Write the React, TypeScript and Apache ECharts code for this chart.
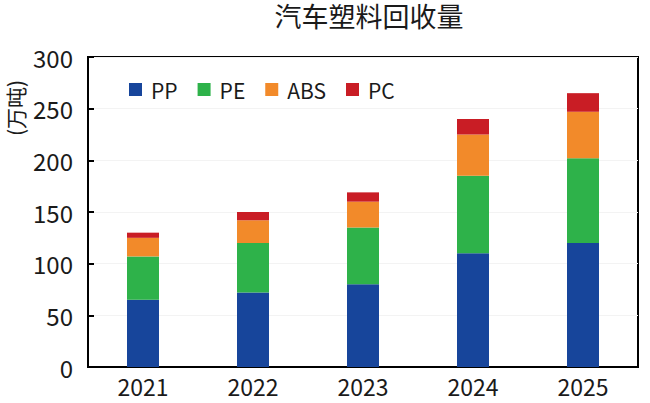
import React, { useEffect, useRef } from "react";
import * as echarts from "echarts";

const categories = ["2021", "2022", "2023", "2024", "2025"];
const seriesNames = ["PP", "PE", "ABS", "PC"];
const ppValues = [65, 72, 80, 110, 120];
const peValues = [42, 48, 55, 75, 82];
const absValues = [18, 22, 25, 40, 45];
const pcValues = [5, 8, 9, 15, 18];
const colors = ["#17459b", "#2eb24a", "#f28a2a", "#c91d25"];

const FONT = "'Noto Sans CJK SC', 'Noto Sans', sans-serif";

export default function App() {
  const ref = useRef<HTMLDivElement>(null);
  useEffect(() => {
    if (!ref.current) return;
    const chart = echarts.init(ref.current, undefined, { renderer: "svg" });
    const dataSets = [ppValues, peValues, absValues, pcValues];
    chart.setOption({
      animation: false,
      textStyle: { fontFamily: FONT },
      title: {
        text: "汽车塑料回收量",
        left: 369,
        top: 0,
        padding: 0,
        textAlign: "center",
        textStyle: { fontFamily: FONT, fontSize: 27, lineHeight: 30, fontWeight: "normal", color: "#1a1a1a" },
      },
      graphic: [
        {
          type: "text",
          x: 15,
          y: 108,
          rotation: Math.PI / 2,
          style: {
            text: "(万吨)",
            font: `21px ${FONT}`,
            fill: "#1a1a1a",
            textAlign: "center",
            textVerticalAlign: "middle",
          },
        },
      ],
      legend: {
        data: seriesNames,
        left: 124,
        top: 74,
        icon: "rect",
        itemWidth: 13,
        itemHeight: 13,
        itemGap: 20,
        textStyle: { fontFamily: FONT, fontSize: 21, color: "#1a1a1a", padding: [0, 0, 0, 4] },
      },
      grid: {
        left: 88,
        right: 12,
        top: 57,
        bottom: 36,
        show: true,
        borderColor: "#000",
        borderWidth: 2,
        containLabel: false,
      },
      xAxis: {
        type: "category",
        data: categories,
        axisLine: { lineStyle: { color: "#000", width: 2 } },
        axisTick: { show: false },
        axisLabel: { fontFamily: FONT, fontSize: 23, color: "#1a1a1a", margin: 8, lineHeight: 22 },
      },
      yAxis: {
        type: "value",
        min: 0,
        max: 300,
        interval: 50,
        axisLine: { show: true, lineStyle: { color: "#000", width: 2 } },
        axisTick: { show: true, inside: true, length: 6, lineStyle: { color: "#000", width: 2 } },
        axisLabel: { fontFamily: FONT, fontSize: 24, color: "#1a1a1a", margin: 15 },
        splitLine: { show: true, lineStyle: { color: "#f3f3f3", width: 1 } },
      },
      series: seriesNames.map((name, i) => ({
        name,
        type: "bar",
        stack: "total",
        barWidth: 32,
        data: dataSets[i],
        itemStyle: { color: colors[i] },
      })),
    });
    return () => chart.dispose();
  }, []);
  return <div ref={ref} style={{ width: 650, height: 403, position: "absolute", left: 0, top: 0 }} />;
}
